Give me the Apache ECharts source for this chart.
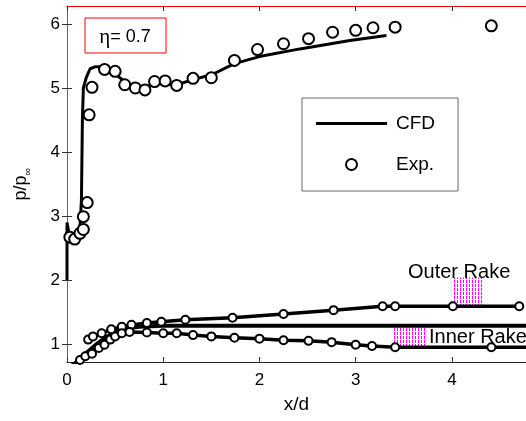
<!DOCTYPE html>
<html><head><meta charset="utf-8">
<script src="https://cdn.jsdelivr.net/npm/echarts@6/dist/echarts.min.js"></script>
<style>html,body{margin:0;padding:0;background:#fff}#c{width:526px;height:421px}</style>
</head><body><div id="c"></div>
<script>
// ---- data ----
const xTicks = [0, 1, 2, 3, 4];
const yTicks = [1, 2, 3, 4, 5, 6];
const cfdX = [0, 0, 0.03, 0.08, 0.13, 0.15, 0.16, 0.17, 0.20, 0.24, 0.29, 0.34, 0.39, 0.48, 0.60, 0.71, 0.81, 0.91, 1.14, 1.31, 1.51, 1.74, 2.00, 2.42, 2.94, 3.32];
const cfdY = [2.0, 2.9, 2.66, 2.62, 2.68, 3.25, 4.5, 5.0, 5.16, 5.30, 5.33, 5.33, 5.31, 5.24, 5.10, 5.02, 5.01, 5.07, 5.05, 5.13, 5.21, 5.38, 5.49, 5.61, 5.74, 5.82];
const expX = [0.03, 0.08, 0.135, 0.17, 0.17, 0.21, 0.23, 0.26, 0.39, 0.50, 0.60, 0.71, 0.81, 0.91, 1.02, 1.14, 1.31, 1.50, 1.74, 1.98, 2.25, 2.51, 2.76, 3.00, 3.18, 3.41, 4.41];
const expY = [2.67, 2.64, 2.73, 2.79, 2.99, 3.21, 4.58, 5.01, 5.29, 5.26, 5.05, 5.00, 4.97, 5.10, 5.11, 5.04, 5.15, 5.16, 5.43, 5.60, 5.69, 5.77, 5.87, 5.90, 5.94, 5.95, 5.97];
const outerX = [0.22, 0.27, 0.36, 0.46, 0.57, 0.67, 0.83, 0.98, 1.23, 1.72, 2.25, 2.77, 3.28, 3.41, 4.01, 4.70];
const outerY = [1.07, 1.12, 1.17, 1.23, 1.27, 1.30, 1.33, 1.35, 1.38, 1.41, 1.47, 1.53, 1.59, 1.59, 1.59, 1.59];
const innerX = [0.03, 0.08, 0.135, 0.19, 0.26, 0.33, 0.39, 0.45, 0.50, 0.57, 0.65, 0.83, 1.00, 1.14, 1.31, 1.50, 1.74, 2.00, 2.25, 2.51, 2.75, 3.00, 3.17, 3.41, 4.41];
const innerY = [0.64, 0.70, 0.75, 0.81, 0.85, 0.94, 0.99, 1.07, 1.12, 1.17, 1.19, 1.18, 1.17, 1.17, 1.14, 1.12, 1.10, 1.085, 1.06, 1.05, 1.03, 0.99, 0.97, 0.95, 0.95];
const innerTailX = [4.41, 4.77];
const innerTailY = [0.95, 0.95];
const midX = [0, 0.1, 0.2, 0.3, 0.4, 0.5, 0.6, 0.75, 1.0, 4.77];
const midY = [0.6, 0.72, 0.86, 0.99, 1.1, 1.19, 1.24, 1.27, 1.285, 1.285];
const outerBox = [[4.0, 1.59], [4.32, 2.04]];
const innerBox = [[3.39, 0.95], [3.73, 1.27]];

const zip = (a, b) => a.map((v, i) => [v, b[i]]);
const FONT = 'Liberation Sans, Arial, sans-serif';

// hatch pattern (magenta dashed verticals)
const pc = document.createElement('canvas');
pc.width = 3; pc.height = 4;
const g = pc.getContext('2d');
g.fillStyle = '#ff00ff';
g.fillRect(1, 0, 1, 3);
const hatch = {image: pc, repeat: 'repeat'};

const chart = echarts.init(document.getElementById('c'), null, {renderer: 'canvas'});
const ticksStyle = {inside: true, length: 5, lineStyle: {color: '#333'}};
chart.setOption({
  animation: false,
  backgroundColor: '#fff',
  grid: {left: 67, right: 0, top: 6, bottom: 59},
  legend: {
    data: [{name: 'CFD', icon: 'path://M0 0H100V4H0Z'}, {name: 'Exp.'}],
    orient: 'vertical', left: 302, top: 98, symbolKeepAspect: true,
    borderColor: '#666', borderWidth: 1, backgroundColor: '#fff',
    padding: [16, 23, 17, 14], itemWidth: 71, itemHeight: 11, itemGap: 22,
    textStyle: {fontSize: 19, fontFamily: FONT, color: '#000', padding: [0, 0, 0, 4]}
  },
  xAxis: [{
    type: 'value', min: 0, max: 4.77, position: 'bottom',
    axisLine: {lineStyle: {color: '#222'}},
    axisTick: Object.assign({customValues: xTicks}, ticksStyle),
    axisLabel: {customValues: xTicks, fontSize: 17, fontFamily: FONT, color: '#000', margin: 10},
    splitLine: {show: false},
    name: 'x/d', nameLocation: 'middle', nameGap: 33,
    nameTextStyle: {fontSize: 19, fontFamily: FONT, color: '#000'}
  }, {
    type: 'value', min: 0, max: 4.77, position: 'top',
    axisLine: {lineStyle: {color: '#ff0000'}},
    axisTick: Object.assign({customValues: xTicks}, ticksStyle),
    axisLabel: {show: false}, splitLine: {show: false}
  }],
  yAxis: [{
    type: 'value', min: 0.72, max: 6.28, position: 'left',
    axisLine: {show: true, lineStyle: {color: '#666'}},
    axisTick: Object.assign({customValues: yTicks}, ticksStyle),
    axisLabel: {customValues: yTicks, fontSize: 17, fontFamily: FONT, color: '#000', margin: 7},
    splitLine: {show: false},
    name: 'p/p{s|∞}', nameLocation: 'middle', nameGap: 34, nameRotate: 90,
    nameTextStyle: {fontSize: 18, fontFamily: FONT, color: '#000',
      rich: {s: {fontSize: 11, fontFamily: FONT, color: '#000', padding: [12, 0, 0, 0]}}}
  }, {
    type: 'value', min: 0.72, max: 6.28, position: 'right',
    axisLine: {show: false},
    axisTick: Object.assign({customValues: yTicks}, ticksStyle),
    axisLabel: {show: false}, splitLine: {show: false}
  }],
  series: [
    {name: 'mid', type: 'line', data: zip(midX, midY), symbol: 'none',
      lineStyle: {color: '#000', width: 4}, z: 2},
    {name: 'outer', type: 'line', data: zip(outerX, outerY), symbol: 'emptyCircle', symbolSize: 8,
      itemStyle: {color: '#000', borderWidth: 2.5}, lineStyle: {color: '#000', width: 3.5}, z: 3,
      markArea: {silent: true, itemStyle: {color: hatch, opacity: 1},
        data: [[{coord: outerBox[0]}, {coord: outerBox[1]}]]}},
    {name: 'inner', type: 'line', data: zip(innerX, innerY), symbol: 'emptyCircle', symbolSize: 8,
      itemStyle: {color: '#000', borderWidth: 2.5}, lineStyle: {color: '#000', width: 3.5}, z: 3,
      markArea: {silent: true, itemStyle: {color: hatch, opacity: 1},
        data: [[{coord: innerBox[0]}, {coord: innerBox[1]}]]}},
    {name: 'innerTail', type: 'line', data: zip(innerTailX, innerTailY), symbol: 'none',
      lineStyle: {color: '#000', width: 3.5}, z: 3},
    {name: 'CFD', type: 'line', data: zip(cfdX, cfdY), symbol: 'none',
      itemStyle: {color: '#000'}, lineStyle: {color: '#000', width: 3}, z: 4},
    {name: 'Exp.', type: 'scatter', data: zip(expX, expY), symbol: 'emptyCircle', symbolSize: 11,
      itemStyle: {color: '#000', borderColor: '#000', borderWidth: 2.3, opacity: 1}, z: 5}
  ],
  graphic: [
    {type: 'rect', shape: {x: 85, y: 18, width: 81, height: 35},
      style: {fill: '#fff', stroke: '#ff0000', lineWidth: 1}, z: 10},
    {type: 'text', x: 125, y: 37, z: 11,
      style: {text: '{e|η}= 0.7', font: '18px ' + FONT, fill: '#000', align: 'center', verticalAlign: 'middle',
        rich: {e: {fontFamily: 'Liberation Serif, serif', fontSize: 21, fill: '#000'}}}},
    {type: 'text', x: 408, y: 272, z: 11,
      style: {text: 'Outer Rake', font: '20px ' + FONT, fill: '#000', verticalAlign: 'middle'}},
    {type: 'text', x: 429, y: 337, z: 11,
      style: {text: 'Inner Rake', font: '20px ' + FONT, fill: '#000', verticalAlign: 'middle'}}
  ]
});
</script></body></html>
